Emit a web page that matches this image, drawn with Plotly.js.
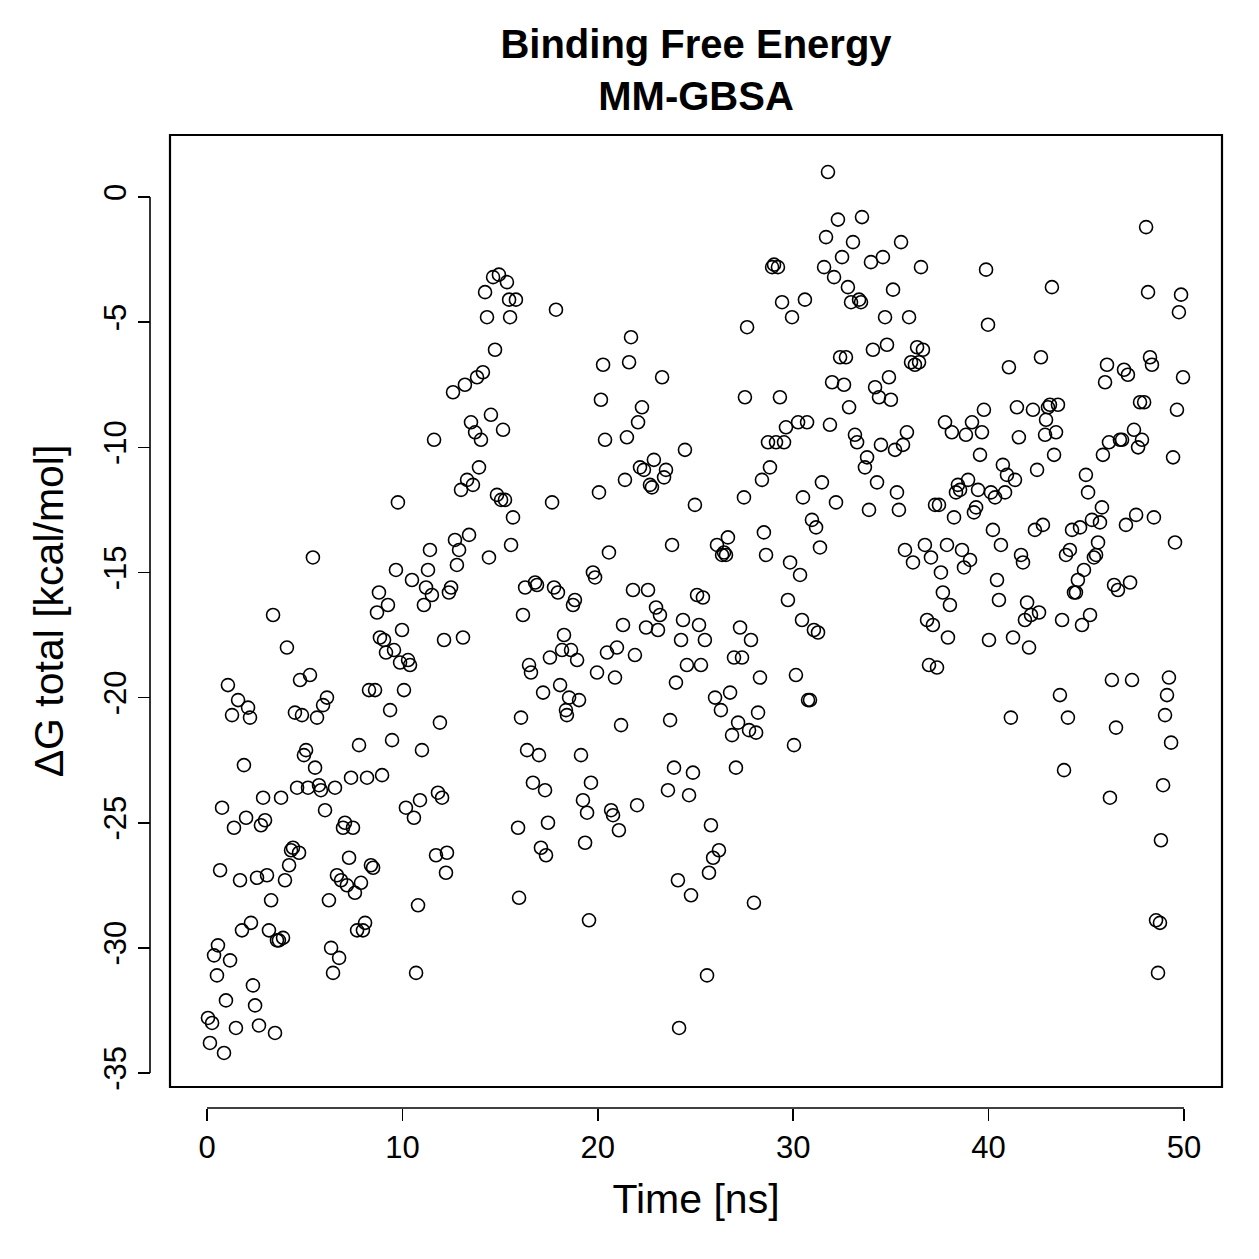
<!DOCTYPE html>
<html>
<head>
<meta charset="utf-8">
<script src="https://cdn.plot.ly/plotly-3.0.1.min.js"></script>
<style>
  html, body { margin: 0; padding: 0; background: #fff; }
  #chart { width: 1259px; height: 1259px; }
</style>
</head>
<body>
<div id="chart"></div>
<script>
// Simulation time of each frame [ns]
const timeNs = [
  0.05,0.15,0.26,0.36,0.51,0.56,0.67,0.77,0.87,0.97,
  1.07,1.18,1.28,1.38,1.48,1.59,1.69,1.79,1.89,2.0,
  2.10,2.2,2.25,2.35,2.46,2.56,2.66,2.76,2.87,2.97,
  3.07,3.17,3.28,3.38,3.48,3.58,3.68,3.79,3.89,3.99,
  4.09,4.2,4.30,4.40,4.5,4.61,4.71,4.76,4.86,4.96,
  5.07,5.17,5.27,5.42,5.53,5.63,5.73,5.83,5.94,6.04,
  6.14,6.24,6.35,6.45,6.55,6.65,6.76,6.86,6.96,7.06,
  7.16,7.27,7.37,7.47,7.57,7.68,7.78,7.88,7.98,8.09,
  8.19,8.29,8.39,8.5,8.6,8.70,8.80,8.85,8.96,9.06,
  9.16,9.26,9.37,9.47,9.57,9.67,9.77,9.88,9.98,10.08,
  10.18,10.29,10.39,10.49,10.59,10.7,10.80,10.90,11.0,11.1,
  11.21,11.31,11.41,11.51,11.62,11.72,11.82,11.92,12.03,12.13,
  12.23,12.28,12.38,12.49,12.59,12.69,12.79,12.9,13.0,13.1,
  13.2,13.31,13.41,13.51,13.61,13.72,13.82,13.92,14.02,14.12,
  14.23,14.33,14.43,14.53,14.64,14.74,14.84,14.94,15.05,15.15,
  15.25,15.35,15.46,15.51,15.56,15.66,15.81,15.92,15.97,16.07,
  16.17,16.28,16.38,16.48,16.58,16.68,16.79,16.89,16.99,17.09,
  17.2,17.3,17.35,17.45,17.55,17.66,17.76,17.86,17.96,18.07,
  18.17,18.27,18.37,18.42,18.53,18.63,18.73,18.83,18.94,19.04,
  19.14,19.24,19.35,19.45,19.55,19.65,19.75,19.86,19.96,20.06,
  20.16,20.27,20.37,20.47,20.57,20.68,20.78,20.88,20.98,21.08,
  21.19,21.29,21.39,21.49,21.6,21.70,21.80,21.90,22.01,22.06,
  22.16,22.26,22.36,22.47,22.57,22.67,22.77,22.87,22.98,23.08,
  23.18,23.29,23.39,23.49,23.59,23.7,23.80,23.90,24.0,24.1,
  24.16,24.26,24.36,24.46,24.56,24.67,24.77,24.87,24.97,25.08,
  25.18,25.28,25.38,25.48,25.59,25.69,25.79,25.9,26.0,26.10,
  26.2,26.3,26.36,26.46,26.56,26.66,26.77,26.87,26.97,27.07,
  27.18,27.28,27.38,27.48,27.53,27.64,27.74,27.84,27.99,28.1,
  28.2,28.3,28.4,28.5,28.61,28.71,28.81,28.92,29.02,29.12,
  29.22,29.32,29.43,29.53,29.63,29.73,29.84,29.94,30.04,30.14,
  30.25,30.35,30.45,30.5,30.6,30.71,30.76,30.86,30.96,31.06,
  31.17,31.27,31.37,31.47,31.58,31.68,31.78,31.88,31.99,32.09,
  32.19,32.29,32.4,32.5,32.6,32.70,32.8,32.86,32.96,33.06,
  33.16,33.27,33.37,33.47,33.52,33.67,33.78,33.88,33.98,34.08,
  34.19,34.29,34.39,34.49,34.59,34.7,34.8,34.9,35.0,35.11,
  35.21,35.31,35.41,35.52,35.62,35.72,35.82,35.93,36.03,36.13,
  36.23,36.34,36.44,36.54,36.64,36.74,36.85,36.95,37.05,37.15,
  37.26,37.36,37.46,37.56,37.66,37.77,37.87,37.92,38.02,38.12,
  38.23,38.33,38.43,38.54,38.64,38.74,38.84,38.95,39.05,39.15,
  39.25,39.36,39.46,39.56,39.66,39.76,39.87,39.97,40.02,40.12,
  40.22,40.33,40.43,40.53,40.63,40.73,40.84,40.94,41.04,41.14,
  41.25,41.35,41.45,41.55,41.66,41.76,41.86,41.97,42.07,42.17,
  42.27,42.37,42.48,42.58,42.68,42.78,42.89,42.94,43.04,43.14,
  43.24,43.35,43.45,43.55,43.65,43.76,43.86,43.96,44.06,44.16,
  44.27,44.37,44.47,44.57,44.68,44.78,44.88,44.98,45.09,45.19,
  45.29,45.39,45.50,45.60,45.70,45.80,45.85,45.96,46.06,46.16,
  46.21,46.31,46.42,46.52,46.62,46.72,46.83,46.93,47.03,47.13,
  47.24,47.34,47.44,47.55,47.65,47.75,47.85,47.96,48.06,48.16,
  48.26,48.36,48.46,48.57,48.67,48.77,48.82,48.93,49.03,49.13,
  49.23,49.34,49.44,49.54,49.64,49.74,49.85,49.95
];

// Total binding free energy per frame [kcal/mol]
const deltaG = [
  -32.8,-33.8,-33.0,-30.3,-31.1,-29.9,-26.9,-24.4,-34.2,-32.1,
  -19.5,-30.5,-20.7,-25.2,-33.2,-20.1,-27.3,-29.3,-22.7,-24.8,
  -20.4,-20.8,-29.0,-31.5,-32.3,-27.2,-33.1,-25.1,-24.0,-24.9,
  -27.1,-29.3,-28.1,-16.7,-33.4,-29.7,-29.7,-24.0,-29.6,-27.3,
  -18.0,-26.7,-26.1,-26.0,-20.6,-23.6,-26.2,-19.3,-20.7,-22.3,
  -22.1,-23.6,-19.1,-14.4,-22.8,-20.8,-23.5,-23.7,-20.3,-24.5,
  -20.0,-28.1,-30.0,-31.0,-23.6,-27.1,-30.4,-27.3,-25.2,-25.0,
  -27.5,-26.4,-23.2,-25.2,-27.8,-29.3,-21.9,-27.4,-29.3,-29.0,
  -23.2,-19.7,-26.7,-26.8,-19.7,-16.6,-15.8,-17.6,-23.1,-17.7,
  -18.2,-16.3,-20.5,-21.7,-18.1,-14.9,-12.2,-18.6,-17.3,-19.7,
  -24.4,-18.5,-18.7,-15.3,-24.8,-31.0,-28.3,-24.1,-22.1,-16.3,
  -15.6,-14.9,-14.1,-15.9,-9.7,-26.3,-23.8,-21.0,-24.0,-17.7,
  -27.0,-26.2,-15.8,-15.6,-7.8,-13.7,-14.7,-14.1,-11.7,-17.6,
  -7.5,-11.3,-13.5,-9.0,-11.5,-9.4,-7.2,-10.8,-9.7,-7.0,
  -3.8,-4.8,-14.4,-8.7,-3.2,-6.1,-11.9,-3.1,-12.1,-9.3,
  -12.1,-3.4,-4.1,-4.8,-13.9,-12.8,-4.1,-25.2,-28.0,-20.8,
  -16.7,-15.6,-22.1,-18.7,-19.0,-23.4,-15.4,-15.5,-22.3,-26.0,
  -19.8,-23.7,-26.3,-25.0,-18.4,-12.2,-15.6,-4.5,-15.8,-19.5,
  -18.1,-17.5,-20.5,-20.7,-20.0,-18.1,-16.3,-16.1,-18.5,-20.1,
  -22.3,-24.1,-25.8,-24.6,-28.9,-23.4,-15.0,-15.2,-19.0,-11.8,
  -8.1,-6.7,-9.7,-18.2,-14.2,-24.5,-24.7,-19.2,-18.0,-25.3,
  -21.1,-17.1,-11.3,-9.6,-6.6,-5.6,-15.7,-18.3,-24.3,-9.0,
  -10.8,-8.4,-10.9,-17.2,-15.7,-11.5,-11.6,-10.5,-16.4,-17.3,
  -16.7,-7.2,-11.2,-10.9,-23.7,-20.9,-13.9,-22.8,-19.4,-27.3,
  -33.2,-17.7,-16.9,-10.1,-18.7,-23.9,-27.9,-23.0,-12.3,-15.9,
  -17.1,-18.7,-16.0,-17.7,-31.1,-27.0,-25.1,-26.4,-20.0,-13.9,
  -26.1,-20.5,-14.3,-14.2,-14.3,-13.6,-19.8,-21.5,-18.4,-22.8,
  -21.0,-17.2,-18.4,-12.0,-8.0,-5.2,-21.3,-17.7,-28.2,-21.4,
  -20.6,-19.2,-11.3,-13.4,-14.3,-9.8,-10.8,-2.8,-2.7,-9.8,
  -2.8,-8.0,-4.2,-9.8,-9.2,-16.1,-14.6,-4.8,-21.9,-19.1,
  -9.0,-15.1,-16.9,-12.0,-4.1,-9.0,-20.1,-20.1,-12.9,-17.3,
  -13.2,-17.4,-14.0,-11.4,-2.8,-1.6,1.0,-9.1,-7.4,-3.2,
  -12.2,-0.9,-6.4,-2.4,-7.5,-6.4,-3.6,-8.4,-4.2,-1.8,
  -9.5,-9.8,-4.1,-4.2,-0.8,-10.8,-10.4,-12.5,-2.6,-6.1,
  -7.6,-11.4,-8.0,-9.9,-2.4,-4.8,-5.9,-7.2,-8.1,-3.7,
  -10.1,-11.8,-12.5,-1.8,-9.9,-14.1,-9.4,-4.8,-6.6,-14.6,
  -6.7,-6.0,-6.6,-2.8,-6.1,-13.9,-16.9,-18.7,-14.4,-17.1,
  -12.3,-18.8,-12.3,-15.0,-15.8,-9.0,-13.9,-17.6,-16.3,-9.4,
  -12.8,-11.8,-11.5,-11.7,-14.1,-14.8,-9.5,-11.3,-14.5,-9.0,
  -12.6,-12.4,-11.7,-10.3,-9.4,-8.5,-2.9,-5.1,-17.7,-11.8,
  -13.3,-12.0,-15.3,-16.1,-13.9,-10.7,-11.8,-11.1,-6.8,-20.8,
  -17.6,-11.3,-8.4,-9.6,-14.3,-14.6,-16.9,-16.2,-18.0,-16.7,
  -8.5,-13.3,-10.9,-16.6,-6.4,-13.1,-9.5,-8.9,-8.4,-8.3,
  -3.6,-10.3,-9.4,-8.3,-19.9,-16.9,-22.9,-14.3,-20.8,-14.1,
  -13.3,-15.8,-15.8,-15.3,-13.2,-17.1,-14.9,-11.1,-11.8,-16.7,
  -12.9,-14.4,-14.3,-13.8,-13.0,-12.4,-10.3,-7.4,-6.7,-9.8,
  -24.0,-19.3,-15.5,-21.2,-15.7,-9.7,-9.7,-6.9,-13.1,-7.1,
  -15.4,-19.3,-9.3,-12.7,-10.0,-8.2,-9.7,-8.2,-1.2,-3.8,
  -6.4,-6.7,-12.8,-28.9,-31.0,-29.0,-25.7,-23.5,-20.7,-19.9,
  -19.2,-21.8,-10.4,-13.8,-8.5,-4.6,-3.9,-7.2
];

// Axis ticks
const xTicks = [0, 10, 20, 30, 40, 50];
const xTickText = ['0', '10', '20', '30', '40', '50'];
const yTicks = [0, -5, -10, -15, -20, -25, -30, -35];
const yTickText = ['0', '-5', '-10', '-15', '-20', '-25', '-30', '-35'];

const FONT = 'Liberation Sans, Arial, Helvetica, sans-serif';

// Plot frame sits slightly inside the axis lines (offset axes)
const xDomStart = 20 / 1072;
const yDomStart = 21 / 973;

const trace = {
  x: timeNs,
  y: deltaG,
  type: 'scatter',
  mode: 'markers',
  marker: {
    symbol: 'circle-open',
    size: 13,
    color: '#000',
    line: { width: 1.6, color: '#000' }
  },
  hoverinfo: 'x+y',
  showlegend: false
};

const layout = {
  width: 1259,
  height: 1259,
  paper_bgcolor: '#fff',
  plot_bgcolor: '#fff',
  margin: { l: 150, r: 37, t: 135, b: 151 },
  font: { family: FONT, color: '#000', size: 31 },
  title: {
    text: '<b>Binding Free Energy</b><br><b>MM-GBSA</b>',
    font: { family: FONT, size: 40, color: '#000' },
    xref: 'paper',
    x: (696 - 150) / 1072,
    xanchor: 'center',
    yref: 'container',
    y: 1 - 58 / 1259,
    yanchor: 'top'
  },
  xaxis: {
    domain: [xDomStart, 1],
    range: [-1.894, 51.945],
    anchor: 'free',
    position: 0,
    showgrid: false,
    zeroline: false,
    showline: false,
    ticks: 'outside',
    ticklen: 12,
    tickwidth: 1.6,
    tickcolor: '#000',
    tickvals: xTicks,
    ticktext: xTickText,
    tickfont: { family: FONT, size: 31, color: '#000' },
    title: {
      text: 'Time [ns]',
      font: { family: FONT, size: 41, color: '#000' },
      standoff: 20
    }
  },
  yaxis: {
    domain: [yDomStart, 1],
    range: [-35.56, 2.48],
    anchor: 'free',
    position: 0,
    showgrid: false,
    zeroline: false,
    showline: false,
    ticks: 'outside',
    ticklen: 12,
    tickwidth: 1.6,
    tickcolor: '#000',
    tickvals: yTicks,
    ticktext: yTickText,
    tickangle: -90,
    tickfont: { family: FONT, size: 31, color: '#000' },
    title: {
      text: 'ΔG total [kcal/mol]',
      font: { family: FONT, size: 41, color: '#000' },
      standoff: 20
    }
  },
  shapes: [
    // box around the plotting region
    {
      type: 'rect', xref: 'paper', yref: 'paper',
      x0: xDomStart, x1: 1, y0: yDomStart, y1: 1,
      line: { color: '#000', width: 2.2 }, fillcolor: 'rgba(0,0,0,0)'
    },
    // x axis line spanning the tick range
    {
      type: 'line', xref: 'x', yref: 'paper',
      x0: xTicks[0], x1: xTicks[xTicks.length - 1], y0: 0, y1: 0,
      line: { color: '#000', width: 1.6 }
    },
    // y axis line spanning the tick range
    {
      type: 'line', xref: 'paper', yref: 'y',
      x0: 0, x1: 0, y0: yTicks[0], y1: yTicks[yTicks.length - 1],
      line: { color: '#000', width: 1.6 }
    }
  ]
};

Plotly.newPlot('chart', [trace], layout, { displayModeBar: false, staticPlot: true });
</script>
</body>
</html>
